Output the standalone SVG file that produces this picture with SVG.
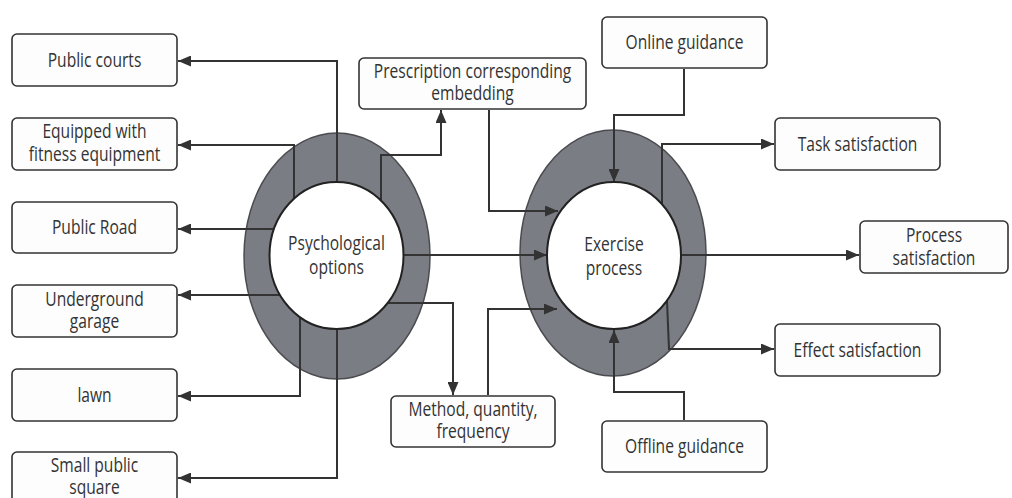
<svg xmlns="http://www.w3.org/2000/svg" width="1012" height="498" viewBox="0 0 1012 498">
<style>
.box{fill:#fdfdfd;stroke:#333;stroke-width:1.6}
.ring{fill:#7a7d83;stroke:#4a4c50;stroke-width:1.5}
.core{fill:#fff;stroke:#222;stroke-width:2}
.con{fill:none;stroke:#333;stroke-width:2}
text{font-family:"Open Sans","Noto Sans",sans-serif;font-size:20px;fill:#333;text-anchor:middle}
</style>
<defs>
<marker id="ah" markerUnits="userSpaceOnUse" markerWidth="13" markerHeight="11" refX="13" refY="5.5" orient="auto">
<path d="M0,0 L13,5.5 L0,11 z" fill="#333"/>
</marker>
</defs>
<rect width="1012" height="498" fill="#fff"/>
<g id="psych-ring"><ellipse class="ring" cx="337" cy="256" rx="93" ry="123"/></g>
<g id="exercise-ring"><ellipse class="ring" cx="613" cy="253" rx="93" ry="123"/></g>
<g id="connectors">
<path class="con" marker-end="url(#ah)" d="M337,184 V61 H178"/>
<path class="con" marker-end="url(#ah)" d="M294,199 V145 H178"/>
<path class="con" marker-end="url(#ah)" d="M274,229 H178"/>
<path class="con" marker-end="url(#ah)" d="M280,295 H178"/>
<path class="con" marker-end="url(#ah)" d="M300,317 V396 H178"/>
<path class="con" marker-end="url(#ah)" d="M337,328 V478 H178"/>
<path class="con" marker-end="url(#ah)" d="M381,200 V155 H441 V110"/>
<path class="con" marker-end="url(#ah)" d="M388,303 H453 V395"/>
<path class="con" marker-end="url(#ah)" d="M403,255 H547"/>
<path class="con" marker-end="url(#ah)" d="M489,110 V211 H558"/>
<path class="con" marker-end="url(#ah)" d="M684,69 V115 H614 V182"/>
<path class="con" marker-end="url(#ah)" d="M662,204 V144 H774"/>
<path class="con" marker-end="url(#ah)" d="M681,255 H859"/>
<path class="con" marker-end="url(#ah)" d="M667,301 L669,349 H774"/>
<path class="con" marker-end="url(#ah)" d="M488,395 V309 H557"/>
<path class="con" marker-end="url(#ah)" d="M684,420 V392 H614 V330"/>
</g>
<g id="psychological-options"><ellipse class="core" cx="336.5" cy="255.5" rx="67" ry="73.5"/>
<text transform="translate(336.5,0) scale(0.78,1)" x="0" y="250">Psychological</text>
<text transform="translate(336.5,0) scale(0.78,1)" x="0" y="274">options</text></g>
<g id="exercise-process"><ellipse class="core" cx="614" cy="255.5" rx="67" ry="73.5"/>
<text transform="translate(614,0) scale(0.78,1)" x="0" y="251">Exercise</text>
<text transform="translate(614,0) scale(0.78,1)" x="0" y="275">process</text></g>
<g id="public-courts"><rect class="box" x="12" y="34" width="165" height="52" rx="5"/>
<text transform="translate(94.5,0) scale(0.78,1)" x="0" y="67">Public courts</text></g>
<g id="fitness-equipment"><rect class="box" x="12" y="118" width="165" height="52" rx="5"/>
<text transform="translate(94.5,0) scale(0.78,1)" x="0" y="138">Equipped with</text>
<text transform="translate(94.5,0) scale(0.78,1)" x="0" y="161">fitness equipment</text></g>
<g id="public-road"><rect class="box" x="12" y="202" width="165" height="51" rx="5"/>
<text transform="translate(94.5,0) scale(0.78,1)" x="0" y="234">Public Road</text></g>
<g id="underground-garage"><rect class="box" x="12" y="285" width="165" height="52" rx="5"/>
<text transform="translate(94.5,0) scale(0.78,1)" x="0" y="306">Underground</text>
<text transform="translate(94.5,0) scale(0.78,1)" x="0" y="328">garage</text></g>
<g id="lawn"><rect class="box" x="12" y="369" width="165" height="52" rx="5"/>
<text transform="translate(94.5,0) scale(0.78,1)" x="0" y="402">lawn</text></g>
<g id="small-public-square"><rect class="box" x="12" y="452" width="165" height="54" rx="5"/>
<text transform="translate(94.5,0) scale(0.78,1)" x="0" y="472">Small public</text>
<text transform="translate(94.5,0) scale(0.78,1)" x="0" y="494">square</text></g>
<g id="prescription"><rect class="box" x="359" y="58" width="227" height="51" rx="5"/>
<text transform="translate(472.5,0) scale(0.78,1)" x="0" y="78">Prescription corresponding</text>
<text transform="translate(472.5,0) scale(0.78,1)" x="0" y="100">embedding</text></g>
<g id="method"><rect class="box" x="391" y="396" width="164" height="51" rx="5"/>
<text transform="translate(473,0) scale(0.78,1)" x="0" y="416">Method, quantity,</text>
<text transform="translate(473,0) scale(0.78,1)" x="0" y="438">frequency</text></g>
<g id="online-guidance"><rect class="box" x="602" y="17" width="165" height="51" rx="5"/>
<text transform="translate(684.5,0) scale(0.78,1)" x="0" y="49">Online guidance</text></g>
<g id="offline-guidance"><rect class="box" x="602" y="421" width="165" height="51" rx="5"/>
<text transform="translate(684.5,0) scale(0.78,1)" x="0" y="453">Offline guidance</text></g>
<g id="task-satisfaction"><rect class="box" x="775" y="118" width="165" height="52" rx="5"/>
<text transform="translate(857.5,0) scale(0.78,1)" x="0" y="151">Task satisfaction</text></g>
<g id="process-satisfaction"><rect class="box" x="860" y="221" width="148" height="52" rx="5"/>
<text transform="translate(934,0) scale(0.78,1)" x="0" y="242">Process</text>
<text transform="translate(934,0) scale(0.78,1)" x="0" y="265">satisfaction</text></g>
<g id="effect-satisfaction"><rect class="box" x="775" y="324" width="165" height="52" rx="5"/>
<text transform="translate(857.5,0) scale(0.78,1)" x="0" y="357">Effect satisfaction</text></g>
</svg>
